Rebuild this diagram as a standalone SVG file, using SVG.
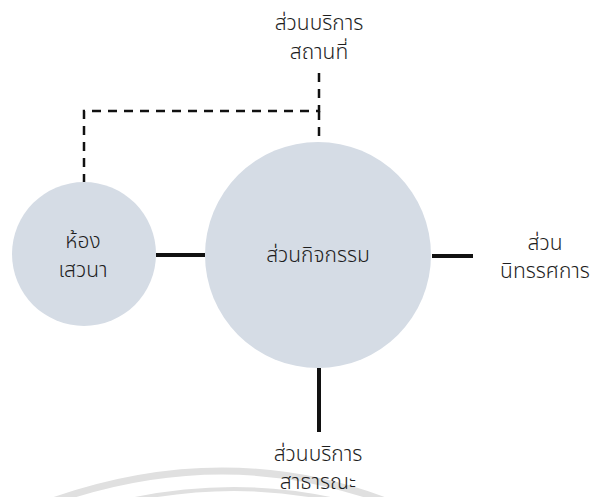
<svg xmlns="http://www.w3.org/2000/svg" width="593" height="497" viewBox="0 0 593 497">
  <style>
    .zone { fill: #d5dce5; }
    .label { font-family: "Noto Sans Thai", "Noto Sans", "DejaVu Sans", sans-serif; font-size: 21px; font-weight: 300; fill: #1e1e1e; text-anchor: middle; }
    .link { stroke: #111; stroke-width: 4; fill: none; }
    .dash { stroke: #111; stroke-width: 2.5; fill: none; stroke-dasharray: 9 7; }
    .mark { stroke: #e0e0e0; fill: none; }
  </style>

  <!-- faint seal arcs along the bottom edge -->
  <g id="seal">
    <path class="mark" stroke-width="7" d="M 50 502 Q 225 440 388 502"/>
    <path class="mark" stroke-width="4" d="M 130 500 Q 235 478 335 500"/>
  </g>

  <!-- connectors -->
  <g id="connectors">
    <path class="dash" d="M 84 183 V 111 H 319 V 70"/>
    <line class="dash" x1="319" y1="111" x2="319" y2="142"/>
    <line class="link" x1="156" y1="255" x2="205" y2="255"/>
    <line class="link" x1="432" y1="256" x2="473" y2="256"/>
    <line class="link" x1="319" y1="368" x2="319" y2="432"/>
  </g>

  <g id="venue-services">
    <text class="label" x="319" y="30">ส่วนบริการ</text>
    <text class="label" x="319" y="59">สถานที่</text>
  </g>

  <g id="seminar-room">
    <circle class="zone" cx="84" cy="254" r="72"/>
    <text class="label" x="83" y="248">ห้อง</text>
    <text class="label" x="83" y="277">เสวนา</text>
  </g>

  <g id="activity-zone">
    <circle class="zone" cx="318" cy="255" r="113"/>
    <text class="label" x="318" y="262">ส่วนกิจกรรม</text>
  </g>

  <g id="exhibition">
    <text class="label" x="545" y="250">ส่วน</text>
    <text class="label" x="545" y="278">นิทรรศการ</text>
  </g>

  <g id="public-services">
    <text class="label" x="318" y="461">ส่วนบริการ</text>
    <text class="label" x="318" y="489">สาธารณะ</text>
  </g>
</svg>
